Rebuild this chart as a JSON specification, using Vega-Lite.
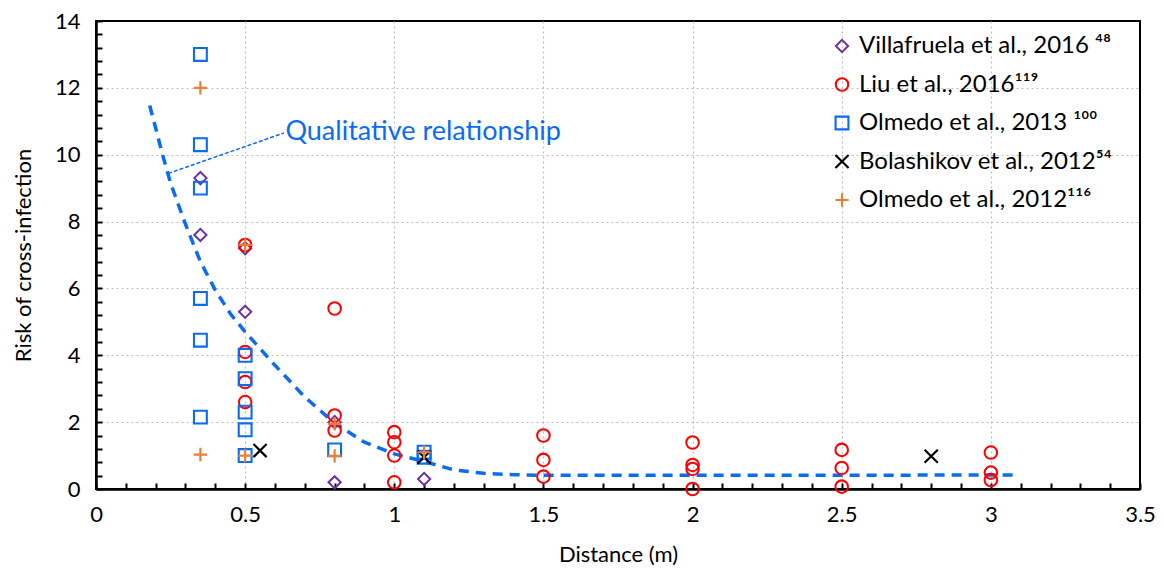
{
  "$schema": "https://vega.github.io/schema/vega-lite/v6.json",
  "autosize": "none",
  "width": 1044,
  "height": 468,
  "padding": {"left": 96, "top": 21, "right": 24, "bottom": 81},
  "background": "white",
  "config": {
    "font": "Lato",
    "view": {"stroke": "black", "strokeWidth": 2},
    "axis": {
      "labelFont": "Lato",
      "titleFont": "Lato",
      "labelFontSize": 22,
      "titleFontSize": 22,
      "titleFontWeight": "normal",
      "labelColor": "black",
      "titleColor": "black",
      "domainColor": "black",
      "domainWidth": 2.5,
      "tickColor": "black",
      "tickWidth": 2,
      "tickSize": -6,
      "tickCount": 200,
      "gridColor": "#bdbdbd",
      "gridDash": [2, 3],
      "gridWidth": 1.2
    },
    "legend": {
      "labelFont": "Lato",
      "labelFontSize": 24,
      "labelColor": "black",
      "labelLimit": 500,
      "symbolStrokeWidth": 2,
      "symbolSize": 140,
      "rowPadding": 14.5,
      "labelOffset": 5
    }
  },
  "datasets": {
    "pts": [
      {"x": 0.35, "y": 9.3, "series": "Villafruela et al., 2016 ⁴⁸"},
      {"x": 0.35, "y": 7.6, "series": "Villafruela et al., 2016 ⁴⁸"},
      {"x": 0.5, "y": 7.2, "series": "Villafruela et al., 2016 ⁴⁸"},
      {"x": 0.5, "y": 5.3, "series": "Villafruela et al., 2016 ⁴⁸"},
      {"x": 0.8, "y": 2.0, "series": "Villafruela et al., 2016 ⁴⁸"},
      {"x": 0.8, "y": 0.2, "series": "Villafruela et al., 2016 ⁴⁸"},
      {"x": 1.1, "y": 0.3, "series": "Villafruela et al., 2016 ⁴⁸"},
      {"x": 0.5, "y": 7.3, "series": "Liu et al., 2016¹¹⁹"},
      {"x": 0.5, "y": 4.1, "series": "Liu et al., 2016¹¹⁹"},
      {"x": 0.5, "y": 3.2, "series": "Liu et al., 2016¹¹⁹"},
      {"x": 0.5, "y": 2.6, "series": "Liu et al., 2016¹¹⁹"},
      {"x": 0.8, "y": 5.4, "series": "Liu et al., 2016¹¹⁹"},
      {"x": 0.8, "y": 2.2, "series": "Liu et al., 2016¹¹⁹"},
      {"x": 0.8, "y": 1.75, "series": "Liu et al., 2016¹¹⁹"},
      {"x": 1.0, "y": 1.7, "series": "Liu et al., 2016¹¹⁹"},
      {"x": 1.0, "y": 1.4, "series": "Liu et al., 2016¹¹⁹"},
      {"x": 1.0, "y": 1.0, "series": "Liu et al., 2016¹¹⁹"},
      {"x": 1.0, "y": 0.2, "series": "Liu et al., 2016¹¹⁹"},
      {"x": 1.5, "y": 1.6, "series": "Liu et al., 2016¹¹⁹"},
      {"x": 1.5, "y": 0.87, "series": "Liu et al., 2016¹¹⁹"},
      {"x": 1.5, "y": 0.37, "series": "Liu et al., 2016¹¹⁹"},
      {"x": 2.0, "y": 1.39, "series": "Liu et al., 2016¹¹⁹"},
      {"x": 2.0, "y": 0.72, "series": "Liu et al., 2016¹¹⁹"},
      {"x": 2.0, "y": 0.6, "series": "Liu et al., 2016¹¹⁹"},
      {"x": 2.0, "y": 0.0, "series": "Liu et al., 2016¹¹⁹"},
      {"x": 2.5, "y": 1.17, "series": "Liu et al., 2016¹¹⁹"},
      {"x": 2.5, "y": 0.63, "series": "Liu et al., 2016¹¹⁹"},
      {"x": 2.5, "y": 0.07, "series": "Liu et al., 2016¹¹⁹"},
      {"x": 3.0, "y": 1.09, "series": "Liu et al., 2016¹¹⁹"},
      {"x": 3.0, "y": 0.49, "series": "Liu et al., 2016¹¹⁹"},
      {"x": 3.0, "y": 0.27, "series": "Liu et al., 2016¹¹⁹"},
      {"x": 0.35, "y": 13.0, "series": "Olmedo et al., 2013 ¹⁰⁰"},
      {"x": 0.35, "y": 10.3, "series": "Olmedo et al., 2013 ¹⁰⁰"},
      {"x": 0.35, "y": 9.0, "series": "Olmedo et al., 2013 ¹⁰⁰"},
      {"x": 0.35, "y": 5.7, "series": "Olmedo et al., 2013 ¹⁰⁰"},
      {"x": 0.35, "y": 4.45, "series": "Olmedo et al., 2013 ¹⁰⁰"},
      {"x": 0.35, "y": 2.15, "series": "Olmedo et al., 2013 ¹⁰⁰"},
      {"x": 0.5, "y": 4.0, "series": "Olmedo et al., 2013 ¹⁰⁰"},
      {"x": 0.5, "y": 3.3, "series": "Olmedo et al., 2013 ¹⁰⁰"},
      {"x": 0.5, "y": 2.3, "series": "Olmedo et al., 2013 ¹⁰⁰"},
      {"x": 0.5, "y": 1.77, "series": "Olmedo et al., 2013 ¹⁰⁰"},
      {"x": 0.5, "y": 1.0, "series": "Olmedo et al., 2013 ¹⁰⁰"},
      {"x": 0.8, "y": 1.17, "series": "Olmedo et al., 2013 ¹⁰⁰"},
      {"x": 1.1, "y": 1.1, "series": "Olmedo et al., 2013 ¹⁰⁰"},
      {"x": 1.1, "y": 0.95, "series": "Olmedo et al., 2013 ¹⁰⁰"},
      {"x": 0.55, "y": 1.15, "series": "Bolashikov et al., 2012⁵⁴"},
      {"x": 1.1, "y": 0.95, "series": "Bolashikov et al., 2012⁵⁴"},
      {"x": 2.8, "y": 0.98, "series": "Bolashikov et al., 2012⁵⁴"},
      {"x": 0.35, "y": 12.0, "series": "Olmedo et al., 2012¹¹⁶"},
      {"x": 0.35, "y": 1.03, "series": "Olmedo et al., 2012¹¹⁶"},
      {"x": 0.5, "y": 7.3, "series": "Olmedo et al., 2012¹¹⁶"},
      {"x": 0.5, "y": 1.0, "series": "Olmedo et al., 2012¹¹⁶"},
      {"x": 0.8, "y": 1.95, "series": "Olmedo et al., 2012¹¹⁶"},
      {"x": 0.8, "y": 0.99, "series": "Olmedo et al., 2012¹¹⁶"},
      {"x": 1.1, "y": 1.1, "series": "Olmedo et al., 2012¹¹⁶"}
    ],
    "curve": [
      {"x": 0.18, "y": 11.47},
      {"x": 0.2, "y": 10.8},
      {"x": 0.22, "y": 10.1},
      {"x": 0.25, "y": 9.15},
      {"x": 0.3, "y": 7.92},
      {"x": 0.35, "y": 6.8},
      {"x": 0.4, "y": 5.95},
      {"x": 0.45, "y": 5.25},
      {"x": 0.5, "y": 4.7},
      {"x": 0.6, "y": 3.7},
      {"x": 0.7, "y": 2.75},
      {"x": 0.8, "y": 1.97},
      {"x": 0.9, "y": 1.4},
      {"x": 1.0, "y": 1.05},
      {"x": 1.1, "y": 0.82},
      {"x": 1.2, "y": 0.57},
      {"x": 1.3, "y": 0.47},
      {"x": 1.4, "y": 0.43},
      {"x": 1.5, "y": 0.41},
      {"x": 2.0, "y": 0.41},
      {"x": 2.5, "y": 0.41},
      {"x": 3.0, "y": 0.42},
      {"x": 3.09, "y": 0.42}
    ],
    "leader": [
      {"x": 0.242, "y": 9.44},
      {"x": 0.63, "y": 10.65}
    ],
    "note": [
      {"x": 0.635, "y": 10.44, "label": "Qualitative relationship"}
    ]
  },
  "layer": [
    {
      "data": {"name": "curve"},
      "mark": {"type": "line", "color": "#0a6cf0", "strokeWidth": 3.5, "strokeDash": [10, 7], "clip": true},
      "encoding": {
        "x": {
          "field": "x", "type": "quantitative",
          "scale": {"domain": [0, 3.5], "nice": false, "zero": false},
          "title": "Distance (m)",
          "axis": {
            "titlePadding": 19,
            "labelPadding": 21,
            "tickCount": 200,
            "values": [0,0.1,0.2,0.3,0.4,0.5,0.6,0.7,0.8,0.9,1,1.1,1.2,1.3,1.4,1.5,1.6,1.7,1.8,1.9,2,2.1,2.2,2.3,2.4,2.5,2.6,2.7,2.8,2.9,3,3.1,3.2,3.3,3.4,3.5],
            "labelExpr": "round(datum.value*10)%5===0 ? format(datum.value, '~g') : ''",
            "labelFlush": false,
            "labelOverlap": false,
            "grid": true,
            "gridOpacity": {"condition": {"test": "round(datum.value*10)%5===0 && datum.value > 0.01 && datum.value < 3.49", "value": 1}, "value": 0}
          }
        },
        "y": {
          "field": "y", "type": "quantitative",
          "scale": {"domain": [0, 14], "nice": false},
          "title": "Risk of cross-infection",
          "axis": {
            "titlePadding": 19,
            "labelPadding": 22,
            "tickCount": 200,
            "values": [0,0.4,0.8,1.2,1.6,2,2.4,2.8,3.2,3.6,4,4.4,4.8,5.2,5.6,6,6.4,6.8,7.2,7.6,8,8.4,8.8,9.2,9.6,10,10.4,10.8,11.2,11.6,12,12.4,12.8,13.2,13.6,14],
            "labelExpr": "round(datum.value*10)%20===0 ? format(datum.value, '~g') : ''",
            "labelFlush": false,
            "labelOverlap": false,
            "grid": true,
            "gridOpacity": {"condition": {"test": "round(datum.value*10)%20===0 && datum.value > 0.01 && datum.value < 13.9", "value": 1}, "value": 0}
          }
        }
      }
    },
    {
      "data": {"name": "leader"},
      "mark": {"type": "line", "color": "#0a6cf0", "strokeWidth": 1.5, "strokeDash": [4, 2]},
      "encoding": {
        "x": {"field": "x", "type": "quantitative"},
        "y": {"field": "y", "type": "quantitative"}
      }
    },
    {
      "data": {"name": "note"},
      "mark": {"type": "text", "align": "left", "baseline": "alphabetic", "fontSize": 27, "font": "Lato", "color": "#0a6cf0"},
      "encoding": {
        "x": {"field": "x", "type": "quantitative"},
        "y": {"field": "y", "type": "quantitative"},
        "text": {"field": "label"}
      }
    },
    {
      "data": {"name": "pts"},
      "mark": {"type": "point", "filled": false, "opacity": 1},
      "encoding": {
        "x": {"field": "x", "type": "quantitative"},
        "y": {"field": "y", "type": "quantitative"},
        "color": {
          "field": "series", "type": "nominal",
          "scale": {
            "domain": ["Villafruela et al., 2016 ⁴⁸", "Liu et al., 2016¹¹⁹", "Olmedo et al., 2013 ¹⁰⁰", "Bolashikov et al., 2012⁵⁴", "Olmedo et al., 2012¹¹⁶"],
            "range": ["#7030a0", "#ff0000", "#0a6cf0", "#000000", "#ed7d31"]
          },
          "legend": {"title": null, "orient": "none", "legendX": 734, "legendY": 13}
        },
        "shape": {
          "field": "series", "type": "nominal",
          "scale": {
            "domain": ["Villafruela et al., 2016 ⁴⁸", "Liu et al., 2016¹¹⁹", "Olmedo et al., 2013 ¹⁰⁰", "Bolashikov et al., 2012⁵⁴", "Olmedo et al., 2012¹¹⁶"],
            "range": ["diamond", "circle", "square", "M-1,-1L1,1M1,-1L-1,1", "M-1,0L1,0M0,-1L0,1"]
          },
          "legend": {"title": null, "orient": "none", "legendX": 734, "legendY": 13}
        },
        "size": {
          "field": "series", "type": "nominal",
          "scale": {
            "domain": ["Villafruela et al., 2016 ⁴⁸", "Liu et al., 2016¹¹⁹", "Olmedo et al., 2013 ¹⁰⁰", "Bolashikov et al., 2012⁵⁴", "Olmedo et al., 2012¹¹⁶"],
            "range": [150, 180, 170, 110, 160]
          },
          "legend": null
        },
        "strokeWidth": {
          "field": "series", "type": "nominal",
          "scale": {
            "domain": ["Villafruela et al., 2016 ⁴⁸", "Liu et al., 2016¹¹⁹", "Olmedo et al., 2013 ¹⁰⁰", "Bolashikov et al., 2012⁵⁴", "Olmedo et al., 2012¹¹⁶"],
            "range": [2, 2.2, 2.5, 3.5, 2.5]
          },
          "legend": null
        }
      }
    }
  ]
}
